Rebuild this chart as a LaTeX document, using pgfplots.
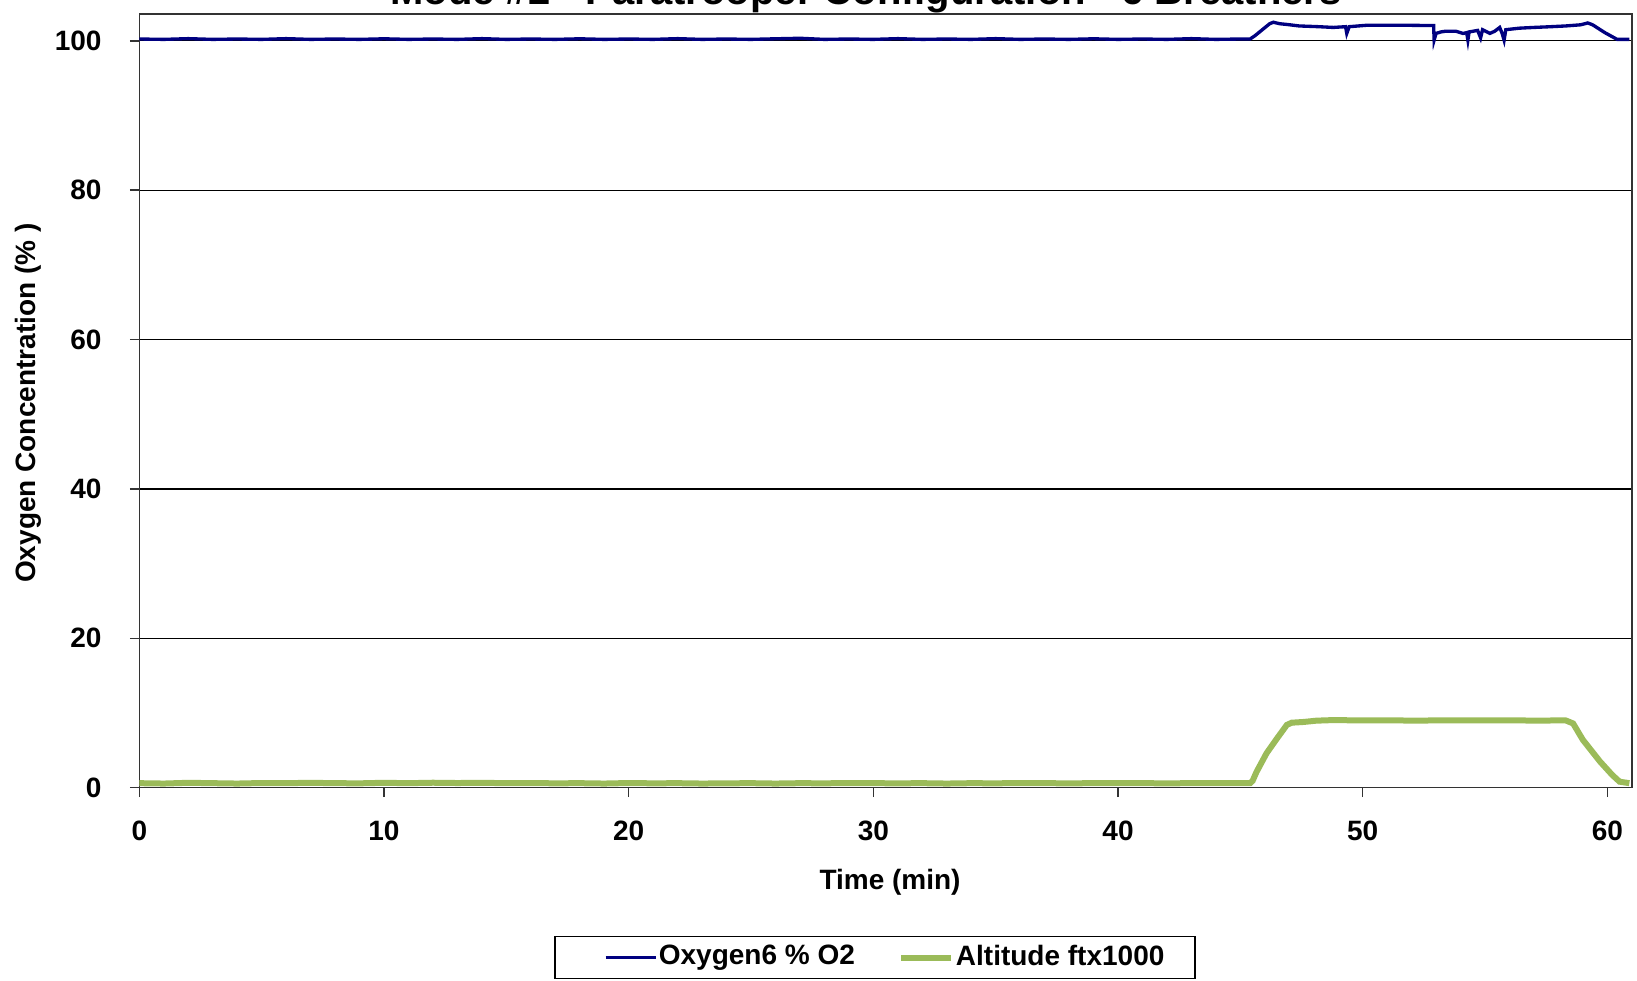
\documentclass[border=0pt]{standalone}
\usepackage{pgfplots}
\pgfplotsset{compat=1.18}
\usepackage{fontspec}
\setmainfont{Liberation Sans}
\definecolor{oxblue}{HTML}{000080}
\definecolor{altgreen}{HTML}{9BBB59}
\begin{document}
\begin{tikzpicture}
\begin{axis}[
  at={(0,0)}, anchor=south west,
  scale only axis,
  width=447.75pt, height=232.1pt,
  xmin=0, xmax=61, ymin=0, ymax=103.6,
  xtick={0,10,...,60}, ytick={0,20,...,100},
  minor tick num=0,
  tick align=outside, xtick pos=left, ytick pos=left,
  major tick length=2.85pt,
  tick style={black!80, line width=0.45pt},
  axis line style={black!80, line width=0.45pt},
  ymajorgrids, major grid style={black, line width=0.35pt},
  /pgf/number format/assume math mode=true,
  tick label style={font=\fontsize{8.4}{10}\bfseries\selectfont},
  yticklabel style={anchor=east, inner sep=0pt, xshift=-8.3pt},
  xticklabel style={anchor=north, inner sep=0pt, yshift=-6.9pt},
  xlabel={Time (min)},
  ylabel={Oxygen Concentration (\% )},
  every axis x label/.style={at={(axis description cs:0.503,0)}, anchor=base, yshift=-30.6pt, font=\fontsize{8.4}{10}\bfseries\selectfont},
  every axis y label/.style={at={(axis description cs:0,0.497)}, anchor=center, rotate=90, yshift=33.4pt, font=\fontsize{8.4}{10}\bfseries\selectfont},
  legend columns=2,
  legend style={at={(axis description cs:0.4929,0)}, anchor=north, yshift=-44.5pt,
    draw=black, line width=0.4pt, font=\fontsize{8.4}{10}\bfseries\selectfont,
    inner xsep=8.7pt, inner ysep=1.5pt,
    nodes={inner xsep=0.5pt, inner ysep=1pt},
    /tikz/every even column/.append style={column sep=6.5pt}},
  legend image code/.code={\path (-6pt,0pt); \draw[#1] (0pt,0pt) -- (15pt,0pt);},
]
\addplot[oxblue, line width=1pt] coordinates {
(0,100.25) (1,100.2) (2,100.3) (3,100.2) (4,100.25) (5,100.2) (6,100.3) (7,100.2)
(8,100.25) (9,100.2) (10,100.28) (11,100.2) (12,100.25) (13,100.2) (14,100.3) (15,100.2)
(16,100.25) (17,100.2) (18,100.28) (19,100.2) (20,100.25) (21,100.2) (22,100.3) (23,100.2)
(24,100.25) (25,100.2) (26,100.28) (27,100.35) (28,100.2) (29,100.25) (30,100.2) (31,100.3)
(32,100.2) (33,100.25) (34,100.2) (35,100.3) (36,100.2) (37,100.25) (38,100.2) (39,100.28)
(40,100.2) (41,100.25) (42,100.2) (43,100.3) (44,100.2) (45,100.25) (45.4,100.25)
(45.6,100.7) (45.9,101.5) (46.2,102.3) (46.35,102.5) (46.6,102.3) (46.9,102.2) (47.4,102.0)
(48.2,101.9) (48.8,101.8) (49.3,101.9) (49.35,101.0) (49.45,101.9) (50.2,102.1) (51.5,102.1)
(52.9,102.05) (52.92,100.1) (53.0,101.0) (53.2,101.2) (53.4,101.3) (53.8,101.3) (54.1,101.0)
(54.25,101.1) (54.3,100.1) (54.35,101.2) (54.7,101.4) (54.82,100.4) (54.9,101.5) (55.2,101.0)
(55.4,101.3) (55.6,101.8) (55.7,101.0) (55.78,100.1) (55.85,101.5) (56.4,101.7) (57.0,101.8)
(57.7,101.9) (58.3,102.0) (58.9,102.15) (59.2,102.4) (59.4,102.15) (59.9,101.1) (60.4,100.2)
(60.9,100.2)
};
\addlegendentry{Oxygen6 \% O2}
\addplot[altgreen, line width=1.8pt] coordinates {
(0,0.6) (1,0.55) (2,0.65) (3,0.6) (4,0.55) (5,0.62) (6,0.6) (7,0.65) (8,0.6) (9,0.58)
(10,0.65) (11,0.6) (12,0.66) (13,0.62) (14,0.65) (15,0.6) (16,0.62) (17,0.58) (18,0.6)
(19,0.55) (20,0.62) (21,0.58) (22,0.6) (23,0.55) (24,0.58) (25,0.6) (26,0.55) (27,0.6)
(28,0.58) (29,0.62) (30,0.6) (31,0.58) (32,0.6) (33,0.55) (34,0.6) (35,0.58) (36,0.62)
(37,0.6) (38,0.58) (39,0.6) (40,0.62) (41,0.6) (42,0.58) (43,0.6) (44,0.62) (45,0.6)
(45.4,0.6) (45.5,0.9) (45.66,2.1) (46.07,4.6) (46.5,6.6) (46.9,8.4) (47.1,8.7) (47.6,8.8)
(48.1,8.97) (48.8,9.05) (50,9.0) (51,9.02) (52,8.98) (53,9.0) (54,9.02) (55,9.0) (56,9.02)
(57,8.98) (58,9.0) (58.3,9.0) (58.6,8.6) (59.0,6.4) (59.7,3.5) (60.2,1.7) (60.5,0.8) (60.9,0.6)
};
\addlegendentry{Altitude ftx1000}
\end{axis}
\node[anchor=base, font=\fontsize{12}{14}\bfseries\selectfont] at (218pt,234.8pt)
  {Mode \#2 - Paratrooper Configuration - 6 Breathers};
\pgfresetboundingbox
\useasboundingbox (-41.8pt,-58.0pt) rectangle (449.3pt,236.3pt);
\end{tikzpicture}
\end{document}
